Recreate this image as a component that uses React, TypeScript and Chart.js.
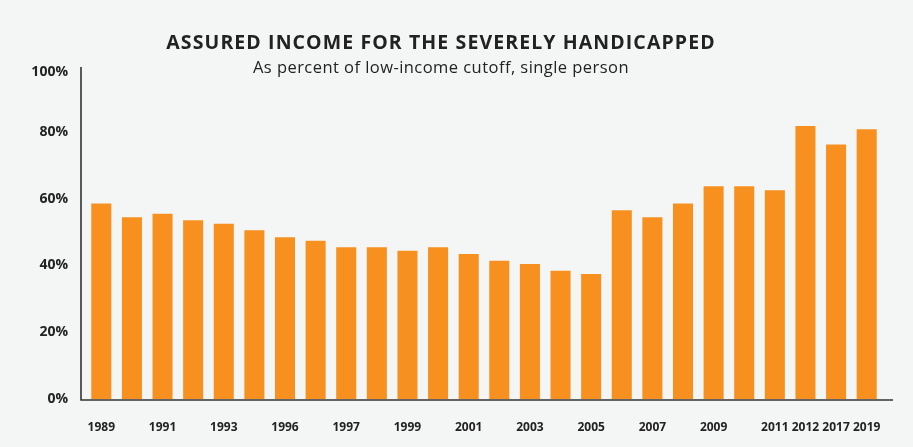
import React, { useEffect, useRef } from "react";
import { Chart, registerables } from "chart.js";

Chart.register(...registerables);

const TITLE = "ASSURED INCOME FOR THE SEVERELY HANDICAPPED";
const SUBTITLE = "As percent of low-income cutoff, single person";

const tickLabels = [
  "1989", "", "1991", "", "1993", "", "1996", "", "1997", "", "1999", "",
  "2001", "", "2003", "", "2005", "", "2007", "", "2009", "",
  "2011", "2012", "2017", "2019",
];

const percentValues = [
  58.5, 54.4, 55.5, 53.5, 52.5, 50.5, 48.4, 47.4, 45.4, 45.4, 44.4, 45.4,
  43.4, 41.4, 40.4, 38.4, 37.4, 56.5, 54.4, 58.5, 63.7, 63.7, 62.5,
  81.7, 76.2, 80.8,
];

const yTicks = [0, 20, 40, 60, 80, 100];

const BG = "#f4f6f6";
const BAR = "#f7901e";
const INK = "#222222";
const FONT = "'Open Sans', Lato, sans-serif";

const overlayPlugin = {
  id: "overlay",
  beforeDraw(chart: any) {
    const ctx = chart.ctx;
    ctx.save();
    ctx.fillStyle = BG;
    ctx.fillRect(0, 0, chart.width, chart.height);
    ctx.restore();
    // nudge the top "100%" tick label down a little, as in the reference
    const y = chart.scales.y;
    if (y && y.getLabelItems) {
      const items = y.getLabelItems(chart.chartArea);
      items.forEach((it: any) => {
        if (it.label === "100%" && !it.__nudged && it.options && it.options.translation) {
          it.options.translation[1] += 7;
          it.__nudged = true;
        }
      });
    }
  },
  afterDraw(chart: any) {
    const ctx = chart.ctx;
    const { left, right, bottom, top } = chart.chartArea;
    ctx.save();
    ctx.strokeStyle = "#333333";
    ctx.lineWidth = 1.6;
    ctx.beginPath();
    ctx.moveTo(left - 5, top + 2);
    ctx.lineTo(left - 5, bottom + 1);
    ctx.lineTo(right + 11, bottom + 1);
    ctx.stroke();

    ctx.fillStyle = INK;
    ctx.textAlign = "center";
    ctx.textBaseline = "middle";
    (ctx as any).letterSpacing = "1.1px";
    ctx.font = `bold 19.5px ${FONT}`;
    ctx.fillText(TITLE, 441, 43);
    (ctx as any).letterSpacing = "0.45px";
    ctx.font = `16.5px ${FONT}`;
    ctx.fillText(SUBTITLE, 441, 68);
    (ctx as any).letterSpacing = "0px";
    ctx.restore();
  },
};

export default function App() {
  const ref = useRef<HTMLCanvasElement | null>(null);

  useEffect(() => {
    if (!ref.current) return;
    const chart = new Chart(ref.current, {
      type: "bar",
      data: {
        labels: tickLabels,
        datasets: [
          {
            data: percentValues,
            backgroundColor: BAR,
            borderWidth: 0,
            barPercentage: 0.655,
            categoryPercentage: 1,
          },
        ],
      },
      options: {
        animation: false,
        responsive: false,
        maintainAspectRatio: false,
        layout: { padding: { left: 10, right: 31, top: 65, bottom: 0 } },
        plugins: {
          legend: { display: false },
          title: { display: false },
          tooltip: { enabled: false },
        },
        scales: {
          x: {
            grid: { display: false, drawTicks: false },
            border: { display: false },
            ticks: {
              autoSkip: false,
              maxRotation: 0,
              minRotation: 0,
              padding: 21,
              color: INK,
              font: { family: FONT, size: 12, weight: "bold" },
            },
            afterFit(scale: any) {
              scale.height = 48;
            },
          },
          y: {
            min: 0,
            max: 100,
            grid: { display: false, drawTicks: false },
            border: { display: false },
            afterBuildTicks(scale: any) {
              scale.ticks = yTicks.map((v) => ({ value: v }));
            },
            ticks: {
              padding: 18,
              color: INK,
              font: { family: FONT, size: 14, weight: "bold" },
              callback: (v: any) => `${v}%`,
            },
            afterFit(scale: any) {
              scale.width = 76;
            },
          },
        },
      },
      plugins: [overlayPlugin],
    });
    return () => chart.destroy();
  }, []);

  return (
    <div style={{ position: "fixed", left: 0, top: 0, width: 913, height: 447, background: BG }}>
      <canvas ref={ref} width={913} height={447} style={{ display: "block" }} />
    </div>
  );
}
